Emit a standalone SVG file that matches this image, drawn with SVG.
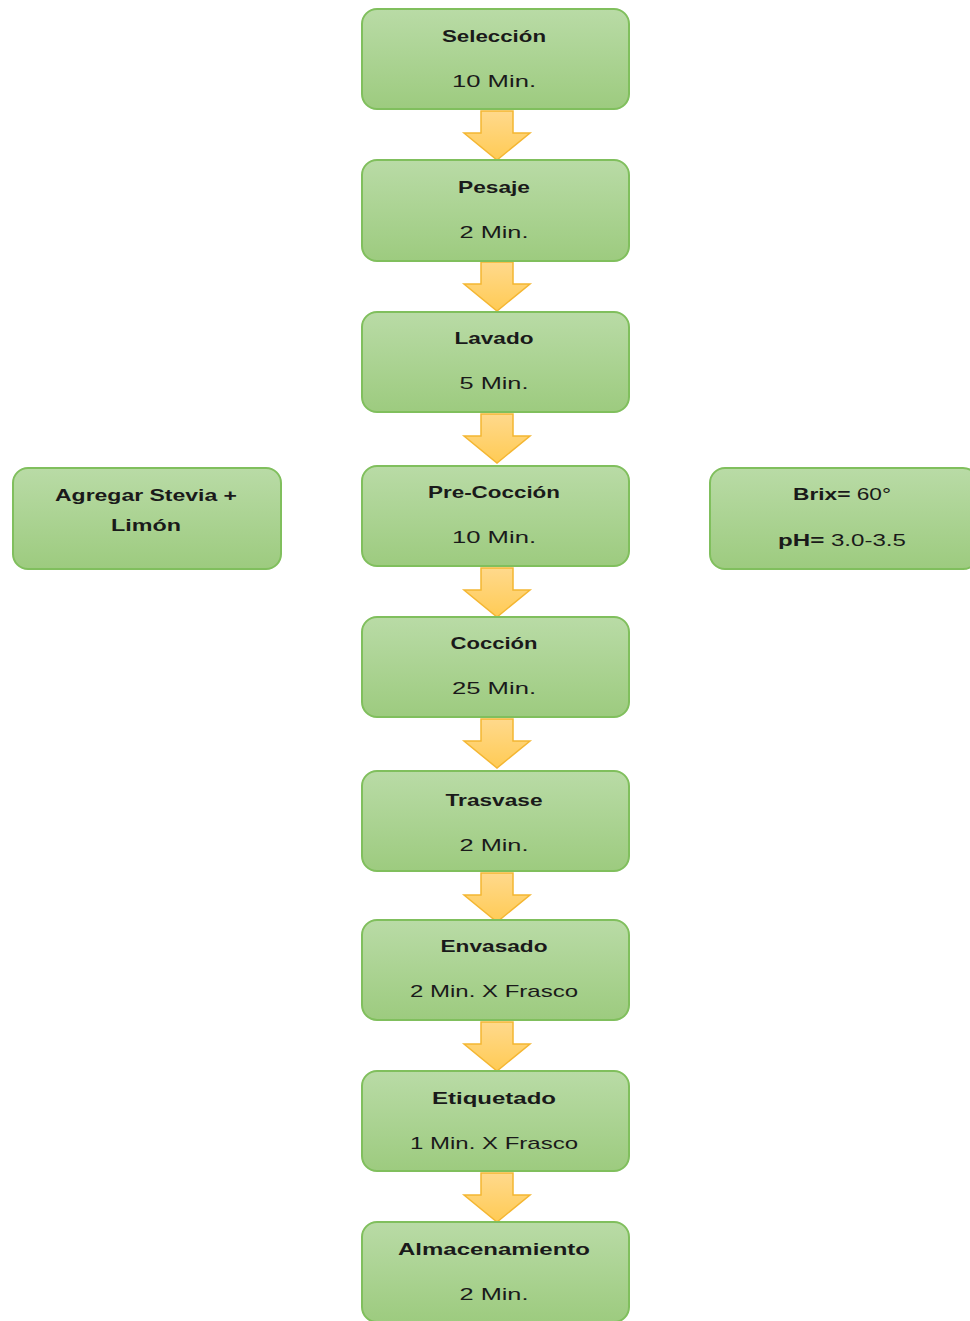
<svg xmlns="http://www.w3.org/2000/svg" width="970" height="1321" viewBox="0 0 970 1321">
<defs>
<linearGradient id="g" x1="0" y1="0" x2="0" y2="1">
<stop offset="0" stop-color="#B9DBA6"/><stop offset="1" stop-color="#9DCB7F"/>
</linearGradient>
<linearGradient id="o" x1="0" y1="0" x2="0" y2="1">
<stop offset="0" stop-color="#FFD98C"/><stop offset="1" stop-color="#FFCB55"/>
</linearGradient>
<path id="arr" d="M-16,0 H16 V22 H33 L0,49 L-33,22 H-16 Z"/>
</defs>
<style>
.box{fill:url(#g);stroke:#80BF5D;stroke-width:2}
.arrow{fill:url(#o);stroke:#F4B632;stroke-width:1.5}
text{font-family:"Liberation Sans",Arial,sans-serif;font-size:17px;fill:#1a1a1a;text-anchor:middle}
.b{font-weight:bold}
</style>
<rect width="970" height="1321" fill="#fff"/>
<g id="connectors">
<use href="#arr" class="arrow" x="497" y="111"/>
<use href="#arr" class="arrow" x="497" y="262"/>
<use href="#arr" class="arrow" x="497" y="414"/>
<use href="#arr" class="arrow" x="497" y="568"/>
<use href="#arr" class="arrow" x="497" y="719"/>
<use href="#arr" class="arrow" x="497" y="873"/>
<use href="#arr" class="arrow" x="497" y="1022"/>
<use href="#arr" class="arrow" x="497" y="1173"/>
</g>
<g id="n1"><rect class="box" x="362" y="9" width="267" height="100" rx="15"/>
<text class="b" x="494" y="42" textLength="104" lengthAdjust="spacingAndGlyphs">Selección</text>
<text x="494" y="87" textLength="84" lengthAdjust="spacingAndGlyphs">10 Min.</text></g>
<g id="n2"><rect class="box" x="362" y="160" width="267" height="101" rx="15"/>
<text class="b" x="494" y="193" textLength="72" lengthAdjust="spacingAndGlyphs">Pesaje</text>
<text x="494" y="238" textLength="69" lengthAdjust="spacingAndGlyphs">2 Min.</text></g>
<g id="n3"><rect class="box" x="362" y="312" width="267" height="100" rx="15"/>
<text class="b" x="494" y="344" textLength="79" lengthAdjust="spacingAndGlyphs">Lavado</text>
<text x="494" y="389" textLength="69" lengthAdjust="spacingAndGlyphs">5 Min.</text></g>
<g id="n4"><rect class="box" x="362" y="466" width="267" height="100" rx="15"/>
<text class="b" x="494" y="498" textLength="132" lengthAdjust="spacingAndGlyphs">Pre-Cocción</text>
<text x="494" y="543" textLength="84" lengthAdjust="spacingAndGlyphs">10 Min.</text></g>
<g id="n5"><rect class="box" x="362" y="617" width="267" height="100" rx="15"/>
<text class="b" x="494" y="649" textLength="87" lengthAdjust="spacingAndGlyphs">Cocción</text>
<text x="494" y="694" textLength="84" lengthAdjust="spacingAndGlyphs">25 Min.</text></g>
<g id="n6"><rect class="box" x="362" y="771" width="267" height="100" rx="15"/>
<text class="b" x="494" y="806" textLength="97" lengthAdjust="spacingAndGlyphs">Trasvase</text>
<text x="494" y="851" textLength="69" lengthAdjust="spacingAndGlyphs">2 Min.</text></g>
<g id="n7"><rect class="box" x="362" y="920" width="267" height="100" rx="15"/>
<text class="b" x="494" y="952" textLength="107" lengthAdjust="spacingAndGlyphs">Envasado</text>
<text x="494" y="997" textLength="168" lengthAdjust="spacingAndGlyphs">2 Min. X Frasco</text></g>
<g id="n8"><rect class="box" x="362" y="1071" width="267" height="100" rx="15"/>
<text class="b" x="494" y="1104" textLength="124" lengthAdjust="spacingAndGlyphs">Etiquetado</text>
<text x="494" y="1149" textLength="168" lengthAdjust="spacingAndGlyphs">1 Min. X Frasco</text></g>
<g id="n9"><rect class="box" x="362" y="1222" width="267" height="100" rx="15"/>
<text class="b" x="494" y="1255" textLength="192" lengthAdjust="spacingAndGlyphs">Almacenamiento</text>
<text x="494" y="1300" textLength="69" lengthAdjust="spacingAndGlyphs">2 Min.</text></g>
<g id="n10"><rect class="box" x="13" y="468" width="268" height="101" rx="15"/>
<text class="b" x="146" y="501" textLength="182" lengthAdjust="spacingAndGlyphs">Agregar Stevia +</text>
<text class="b" x="146" y="531" textLength="70" lengthAdjust="spacingAndGlyphs">Limón</text></g>
<g id="n11"><rect class="box" x="710" y="468" width="268" height="101" rx="15"/>
<text x="842" y="500" textLength="98" lengthAdjust="spacingAndGlyphs"><tspan class="b">Brix=</tspan> 60°</text>
<text x="842" y="546" textLength="128" lengthAdjust="spacingAndGlyphs"><tspan class="b">pH=</tspan> 3.0-3.5</text></g>
</svg>
